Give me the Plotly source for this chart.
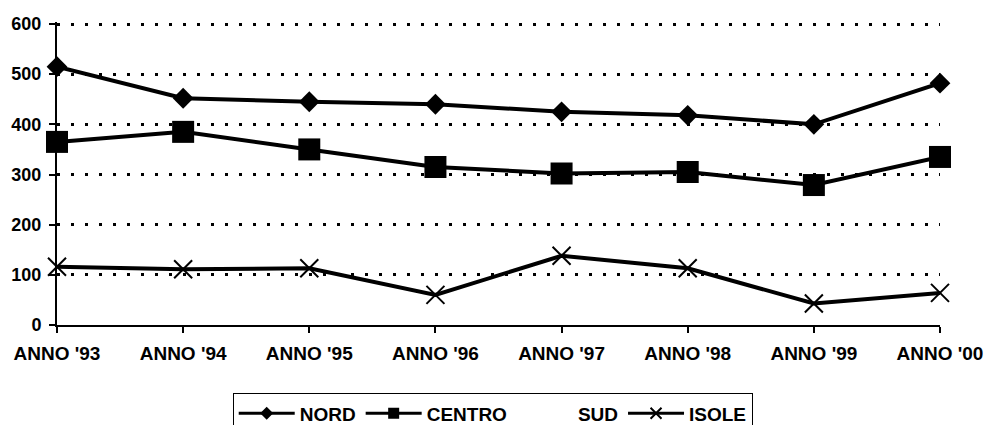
import plotly.graph_objects as go

categories = ["ANNO '93", "ANNO '94", "ANNO '95", "ANNO '96", "ANNO '97", "ANNO '98", "ANNO '99", "ANNO '00"]
nord = [515, 452, 445, 440, 425, 418, 400, 482]
centro = [365, 385, 350, 315, 302, 305, 279, 335]
sud = [None, None, None, None, None, None, None, None]
isole = [116, 111, 113, 60, 138, 113, 43, 64]
y_ticks = [0, 100, 200, 300, 400, 500, 600]

FONT = "Liberation Sans, Arial, sans-serif"
empty = [None] * len(categories)

fig = go.Figure()
# data traces (legend entries drawn by small legend-only traces below)
fig.add_trace(go.Scatter(x=categories, y=nord, name="NORD", mode="lines+markers",
                         line=dict(color="black", width=4),
                         marker=dict(symbol="diamond", size=16, color="black"),
                         cliponaxis=False, showlegend=False))
fig.add_trace(go.Scatter(x=categories, y=centro, name="CENTRO", mode="lines+markers",
                         line=dict(color="black", width=4),
                         marker=dict(symbol="square", size=22, color="black"),
                         cliponaxis=False, showlegend=False))
fig.add_trace(go.Scatter(x=categories, y=sud, name="SUD", mode="lines",
                         line=dict(color="rgba(0,0,0,0)", width=4),
                         cliponaxis=False, showlegend=False))
fig.add_trace(go.Scatter(x=categories, y=isole, name="ISOLE", mode="lines+markers",
                         line=dict(color="black", width=4),
                         marker=dict(symbol="x-thin-open", size=18, color="black",
                                     line=dict(color="black", width=2)),
                         cliponaxis=False, showlegend=False))

# legend entries
fig.add_trace(go.Scatter(x=categories, y=empty, name="NORD", mode="lines+markers",
                         line=dict(color="black", width=3),
                         marker=dict(symbol="diamond", size=10, color="black")))
fig.add_trace(go.Scatter(x=categories, y=empty, name="CENTRO", mode="lines+markers",
                         line=dict(color="black", width=3),
                         marker=dict(symbol="square", size=11, color="black")))
fig.add_trace(go.Scatter(x=categories, y=empty, name="SUD", mode="lines",
                         line=dict(color="rgba(0,0,0,0)", width=3)))
fig.add_trace(go.Scatter(x=categories, y=empty, name="ISOLE", mode="lines+markers",
                         line=dict(color="black", width=3),
                         marker=dict(symbol="x-thin-open", size=11, color="black",
                                     line=dict(color="black", width=2))))

fig.update_layout(
    width=991, height=425,
    margin=dict(l=57, r=51, t=22, b=100, autoexpand=False),
    paper_bgcolor="white", plot_bgcolor="white",
    font=dict(family=FONT, size=19, color="black", weight="bold"),
    showlegend=True,
    legend=dict(orientation="h", x=0.199, xanchor="left", y=-0.226, yanchor="top",
                bordercolor="black", borderwidth=1, font=dict(size=19, weight="bold"),
                itemwidth=56, traceorder="normal"),
    xaxis=dict(type="category", range=[0, 7], showgrid=False, showline=True,
               linecolor="black", linewidth=2, ticks="outside", ticklen=6,
               tickwidth=2, tickcolor="black", tickfont=dict(size=19, weight="bold"),
               ticklabelstandoff=4),
    yaxis=dict(range=[0, 604], tickvals=y_ticks, showgrid=True, gridcolor="black",
               gridwidth=2.5, griddash="3px,11px", zeroline=False, showline=True,
               linecolor="black", linewidth=2, ticks="outside", ticklen=6,
               tickwidth=2, tickcolor="black", tickfont=dict(size=18, weight="bold"),
               ticklabelstandoff=4),
)

fig.write_html("out.html")
